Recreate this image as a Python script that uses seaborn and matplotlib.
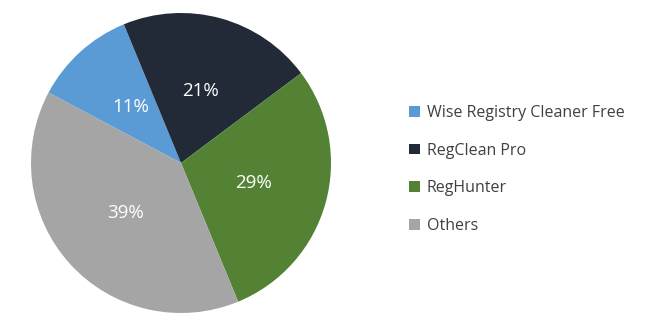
import matplotlib
matplotlib.use("Agg")
import matplotlib.pyplot as plt
import seaborn as sns
from matplotlib.patches import Patch

categories = ["Wise Registry Cleaner Free", "RegClean Pro", "RegHunter", "Others"]
values = [11, 21, 29, 39]
colors = ["#5B9BD5", "#232A37", "#548235", "#A5A5A5"]

sns.set_theme(style="white")
plt.rcParams['font.family'] = ['Open Sans', 'DejaVu Sans']

fig = plt.figure(figsize=(6.54, 3.25), dpi=100)
W, H = 654, 325
cx, cy, r = 181, 163, 150
ax = fig.add_axes([(cx - r) / W, (H - cy - r) / H, 2 * r / W, 2 * r / H])
wedges, texts, autotexts = ax.pie(
    values, colors=colors, startangle=152, counterclock=False,
    autopct=lambda p: f"{p:.0f}%", pctdistance=0.5, radius=1,
    wedgeprops=dict(linewidth=0),
    textprops=dict(color="white", fontsize=13.5))
ax.set_xlim(-1.0, 1.0)
ax.set_ylim(-1.0, 1.0)
ax.set_aspect("equal")
ax.axis("off")

handles = [Patch(facecolor=c, edgecolor="none") for c in colors]
leg = fig.legend(handles, categories, loc="center left",
                 bbox_to_anchor=(395 / W, 1 - 169.5 / H), frameon=False,
                 fontsize=11.5, labelspacing=1.35, handlelength=0.65,
                 handleheight=0.65, handletextpad=0.45)
for t in leg.get_texts():
    t.set_color("#404040")

fig.savefig("out.png", dpi=100)
